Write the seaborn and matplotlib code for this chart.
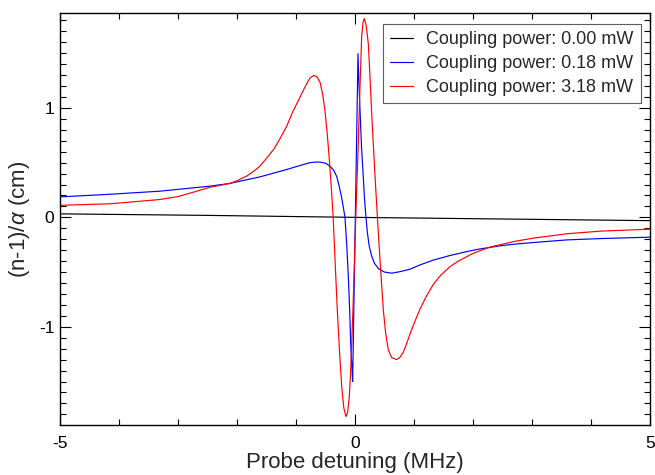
import matplotlib
matplotlib.use("Agg")
import matplotlib.pyplot as plt
from matplotlib.ticker import MultipleLocator
import seaborn as sns

# Values (x in MHz, y in cm)
black_x = [-5.0, -2.5, 0.0, 2.5, 5.0]
black_y = [0.032, 0.018, 0.0, -0.015, -0.03]

blue_x = [-5.0, -4.15, -3.31, -2.46, -2.12, -1.61, -1.16, -0.93, -0.76, -0.67,
          -0.59, -0.50, -0.42, -0.36, -0.31, -0.27, -0.23, -0.20, -0.17, -0.14,
          -0.113, -0.09, -0.073, -0.055, -0.04, 0.051, 0.065, 0.085, 0.11, 0.14,
          0.16, 0.186, 0.21, 0.24, 0.28, 0.33, 0.40, 0.50, 0.62, 0.763,
          0.93, 1.10, 1.33, 1.60, 1.89, 2.10, 2.46, 2.70, 3.02, 3.59,
          4.15, 4.60, 5.0]
blue_y = [0.187, 0.211, 0.239, 0.285, 0.31, 0.37, 0.437, 0.474, 0.50, 0.505,
          0.505, 0.495, 0.465, 0.43, 0.373, 0.29, 0.19, 0.10, 0.0, -0.25,
          -0.54, -0.85, -1.15, -1.35, -1.50, 1.496, 1.25, 0.98, 0.65, 0.373,
          0.18, 0.0, -0.14, -0.26, -0.35, -0.42, -0.47, -0.50, -0.51, -0.496,
          -0.474, -0.435, -0.39, -0.35, -0.313, -0.29, -0.26, -0.245, -0.23, -0.206,
          -0.194, -0.187, -0.181]

red_x = [-5.0, -4.15, -3.8, -3.31, -3.0, -2.74, -2.46, -2.12, -2.0, -1.84,
         -1.72, -1.61, -1.5, -1.38, -1.27, -1.16, -1.05, -0.93, -0.84, -0.76,
         -0.695, -0.64, -0.59, -0.55, -0.51, -0.47, -0.435, -0.40, -0.37, -0.335,
         -0.30, -0.26, -0.225, -0.19, -0.153, -0.125, -0.097, -0.075, -0.056, -0.035,
         -0.017, 0.017, 0.056, 0.085, 0.113, 0.135, 0.157, 0.19, 0.225, 0.25,
         0.28, 0.31, 0.34, 0.38, 0.424, 0.48, 0.52, 0.565, 0.62, 0.706,
         0.76, 0.82, 0.87, 0.93, 1.0, 1.10, 1.2, 1.33, 1.45, 1.61,
         1.75, 1.89, 2.0, 2.14, 2.3, 2.46, 2.7, 3.02, 3.59, 4.15,
         5.0]
red_y = [0.11, 0.124, 0.14, 0.163, 0.19, 0.23, 0.275, 0.31, 0.335, 0.376,
         0.42, 0.468, 0.54, 0.62, 0.72, 0.83, 0.97, 1.10, 1.20, 1.276,
         1.297, 1.28, 1.23, 1.13, 0.98, 0.76, 0.526, 0.26, 0.0, -0.43,
         -0.846, -1.25, -1.548, -1.74, -1.82, -1.78, -1.64, -1.42, -1.15, -0.85,
         -0.54, 0.07, 0.68, 1.2, 1.65, 1.78, 1.816, 1.75, 1.59, 1.33,
         0.98, 0.67, 0.37, 0.0, -0.39, -0.846, -1.06, -1.21, -1.28, -1.30,
         -1.28, -1.23, -1.16, -1.07, -0.97, -0.84, -0.73, -0.61, -0.53, -0.45,
         -0.40, -0.36, -0.33, -0.30, -0.27, -0.25, -0.22, -0.19, -0.15, -0.126,
         -0.108]

series = [
    (black_x, black_y, "black", "Coupling power: 0.00 mW"),
    (blue_x, blue_y, "blue", "Coupling power: 0.18 mW"),
    (red_x, red_y, "red", "Coupling power: 3.18 mW"),
]

sns.set_theme(style="ticks")
plt.rcParams["font.family"] = ["Liberation Sans", "DejaVu Sans"]
plt.rcParams["axes.unicode_minus"] = False
plt.rcParams["mathtext.fontset"] = "custom"
plt.rcParams["mathtext.rm"] = "Liberation Sans"
plt.rcParams["mathtext.it"] = "Liberation Sans:italic"

fig = plt.figure(figsize=(6.55, 4.75), dpi=100)
ax = fig.add_axes([60 / 655, 1 - 425 / 475, 590 / 655, 412 / 475])

for xs, ys, col, lab in series:
    sns.lineplot(x=xs, y=ys, color=col, label=lab, linewidth=0.85,
                 estimator=None, ax=ax)

ax.set_xlim(-5, 5)
ax.set_ylim(-1.897, 1.867)
ax.xaxis.set_major_locator(MultipleLocator(5))
ax.xaxis.set_minor_locator(MultipleLocator(1))
ax.yaxis.set_major_locator(MultipleLocator(1))
ax.yaxis.set_minor_locator(MultipleLocator(0.1))
ax.tick_params(which="both", direction="in", top=True, right=True,
               colors="black", width=0.8, labelsize=12.5)
ax.tick_params(which="major", length=8, pad=8)
ax.tick_params(which="minor", length=4.3)
ax.tick_params(axis="y", which="major", pad=4)
for sp in ax.spines.values():
    sp.set_linewidth(1.0)
    sp.set_color("black")

ax.set_xlabel("Probe detuning (MHz)", fontsize=16, labelpad=0.5)
ax.set_ylabel("(n-1)/$\\alpha$ (cm)", fontsize=16, labelpad=5)

leg = ax.legend(loc="upper right", bbox_to_anchor=(0.9847, 0.9733),
                borderaxespad=0, fontsize=13, frameon=True, fancybox=False,
                handlelength=1.3, handletextpad=0.72, labelspacing=0.38,
                borderpad=0.4)
leg.get_frame().set_edgecolor("#333333")
leg.get_frame().set_linewidth(0.8)

fig.savefig("out.png", dpi=100)
